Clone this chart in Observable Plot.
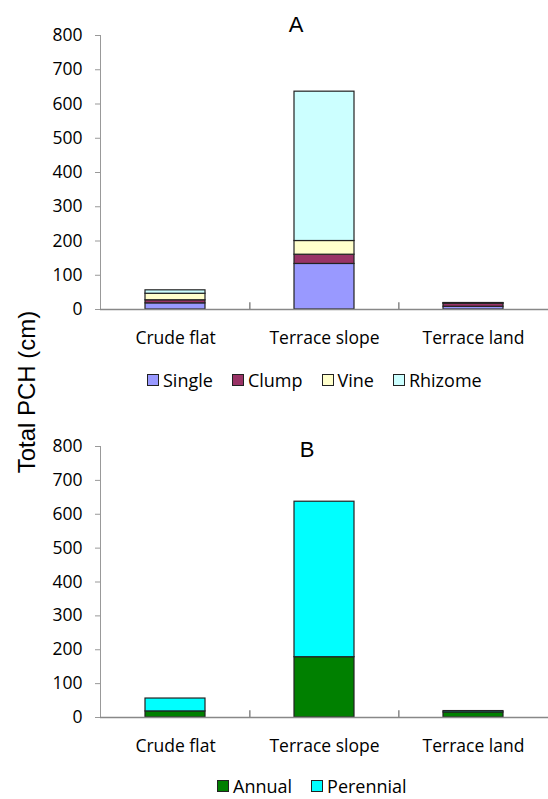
<!DOCTYPE html>
<html>
<head>
<meta charset="utf-8">
<script src="https://cdn.jsdelivr.net/npm/d3@7"></script>
<script src="https://cdn.jsdelivr.net/npm/@observablehq/plot@0.6"></script>
<style>
  body { margin: 0; background: #fff; }
  #wrap { position: relative; width: 548px; height: 799px; overflow: hidden; font-family: "Open Sans", sans-serif; }
  .abs { position: absolute; }
  .title { font-family: "Liberation Sans", Arial, sans-serif; font-size: 22px; color: #000; transform: translate(-50%, -50%); }
  .ylab { font-family: "Liberation Sans", Arial, sans-serif; font-size: 24px; color: #000; transform: translate(-50%, -50%) rotate(-90deg); white-space: nowrap; }
  .legend { display: flex; align-items: center; font-size: 18px; line-height: 22px; color: #000; transform: translateY(-50%); white-space: nowrap; }
  .legend .item { display: flex; align-items: center; margin-right: 19px; }
  .legend .sw { width: 12px; height: 12px; border: 1px solid #222; margin-right: 4px; box-sizing: border-box; }
</style>
</head>
<body>
<div id="wrap"></div>
<script>
const categories = ["Crude flat", "Terrace slope", "Terrace land"];
const lifeForms = ["Single", "Clump", "Vine", "Rhizome"];
const lifeFormColors = ["#9999FF", "#993366", "#FFFFCC", "#CCFFFF"];
const single = [18, 133, 8];
const clump = [9, 27, 9];
const vine = [19, 40, 1];
const rhizome = [10, 436, 1];
const lifeCycles = ["Annual", "Perennial"];
const lifeCycleColors = ["#008000", "#00FFFF"];
const annual = [18, 178, 15];
const perennial = [38, 459, 4];
const yTicks = [0, 100, 200, 300, 400, 500, 600, 700, 800];

const seriesA = [single, clump, vine, rhizome];
const dataA = [];
lifeForms.forEach((t, i) => categories.forEach((c, j) => dataA.push({category: c, type: t, value: seriesA[i][j]})));
const seriesB = [annual, perennial];
const dataB = [];
lifeCycles.forEach((t, i) => categories.forEach((c, j) => dataB.push({category: c, type: t, value: seriesB[i][j]})));

const W = 548, ML = 100, MR = 0;
const step = (W - ML - MR) / categories.length;

function makeChart(data, types, colors, marginTop, plotH) {
  return Plot.plot({
    width: W,
    height: marginTop + plotH + 50,
    marginLeft: ML,
    marginRight: MR,
    marginTop: marginTop,
    marginBottom: 50,
    style: {fontFamily: "Open Sans, sans-serif", fontSize: "17px", color: "#000", background: "transparent", overflow: "visible"},
    x: {domain: categories, paddingInner: 0.6, paddingOuter: 0.3, label: null},
    y: {domain: [0, 800], label: null},
    color: {domain: types, range: colors},
    marks: [
      Plot.frame({anchor: "left", stroke: "#999"}),
      Plot.axisY({ticks: yTicks, tickSize: 5, tickPadding: 13, stroke: "#999", fontSize: 17.5, label: null}),
      Plot.axisX({tickSize: 0, tickPadding: 22, fontSize: 17.5, label: null}),
      Plot.barY(data, {x: "category", y: "value", fill: "type", stroke: "#222", strokeWidth: 1.2}),
      Plot.ruleY([0], {stroke: "#888", strokeWidth: 1.5}),
      Plot.ruleX(categories.slice(1), {x: d => d, y1: 0, y2: 20, dx: -step / 2, stroke: "#888", strokeWidth: 1.5})
    ]
  });
}

const wrap = document.getElementById("wrap");
function place(el, x, y) { el.classList.add("abs"); el.style.left = x + "px"; el.style.top = y + "px"; wrap.appendChild(el); return el; }

const chartA = makeChart(dataA, lifeForms, lifeFormColors, 35, 274);
place(chartA, 0, 0);
const chartB = makeChart(dataB, lifeCycles, lifeCycleColors, 46, 271);
place(chartB, 0, 400);

function text(cls, str, x, y) { const d = document.createElement("div"); d.className = cls; d.textContent = str; return place(d, x, y); }
text("title", "A", 296, 25);
text("title", "B", 307, 450);
text("ylab", "Total PCH (cm)", 27, 392);

function legend(types, colors, x, y) {
  const d = document.createElement("div");
  d.className = "legend";
  types.forEach((t, i) => {
    const it = document.createElement("div"); it.className = "item";
    const sw = document.createElement("div"); sw.className = "sw"; sw.style.background = colors[i];
    const lb = document.createElement("span"); lb.textContent = t;
    it.appendChild(sw); it.appendChild(lb); d.appendChild(it);
  });
  return place(d, x, y);
}
legend(lifeForms, lifeFormColors, 147, 380);
legend(lifeCycles, lifeCycleColors, 217, 786);
</script>
</body>
</html>
